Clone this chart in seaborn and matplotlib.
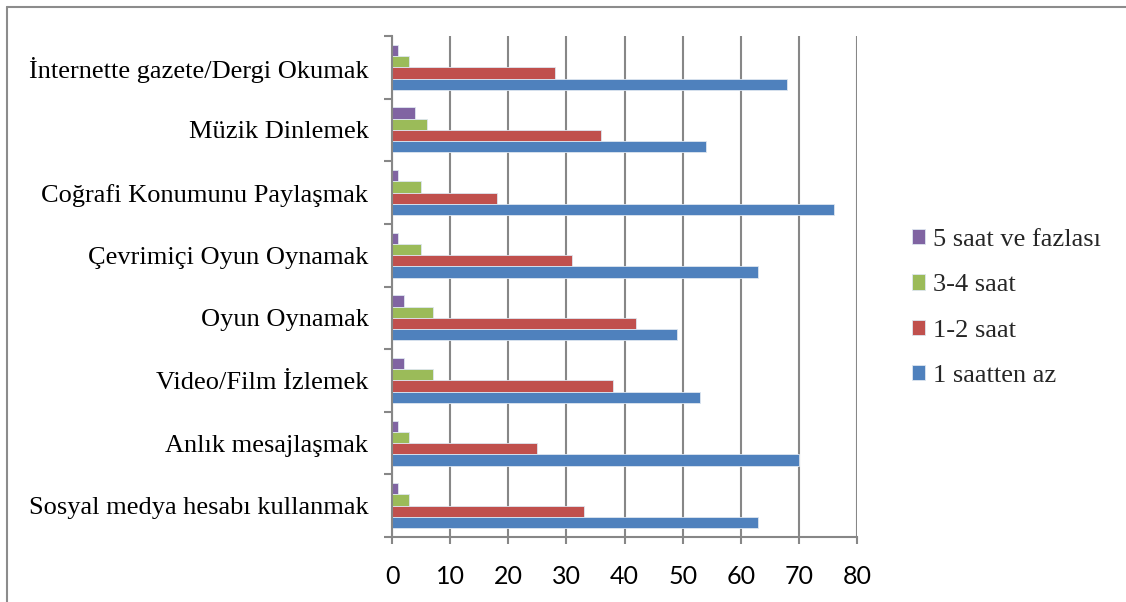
import matplotlib as mpl
import matplotlib.pyplot as plt
import numpy as np
import seaborn as sns
import pandas as pd

# categories, top to bottom as in the chart
kategoriler = [
  "İnternette gazete/Dergi Okumak",
  "Müzik Dinlemek",
  "Coğrafi Konumunu Paylaşmak",
  "Çevrimiçi Oyun Oynamak",
  "Oyun Oynamak",
  "Video/Film İzlemek",
  "Anlık mesajlaşmak",
  "Sosyal medya hesabı kullanmak",
]

seriler = ["5 saat ve fazlası", "3-4 saat", "1-2 saat", "1 saatten az"]

saat_5_ve_fazla = [1, 4, 1, 1, 2, 2, 1, 1]
saat_3_4 = [3, 6, 5, 5, 7, 7, 3, 3]
saat_1_2 = [28, 36, 18, 31, 42, 38, 25, 33]
saat_1_az = [68, 54, 76, 63, 49, 53, 70, 63]

renkler = ["#8064A2", "#9BBB59", "#C0504D", "#4F81BD"]
x_ticks = [0, 10, 20, 30, 40, 50, 60, 70, 80]

# long table for seaborn
rows = []
for seri, vals in zip(seriler, [saat_5_ve_fazla, saat_3_4, saat_1_2, saat_1_az]):
  for k, v in zip(kategoriler, vals):
    rows.append((k, seri, v))
df = pd.DataFrame(rows, columns=["kategori", "seri", "deger"])

sns.set_theme(style="white")
serif = ["Liberation Serif", "DejaVu Serif"]
plt.rcParams["font.family"] = serif

grid_col = "#878787"

fig = plt.figure(figsize=(11.26, 6.02), dpi=100)
ax = fig.add_axes([392 / 1126, 1 - 537 / 602, (857 - 392) / 1126, (537 - 36) / 602])

sns.barplot(data=df, y="kategori", x="deger", hue="seri", order=kategoriler,
            hue_order=seriler, palette=renkler, orient="h", width=0.72,
            saturation=1, edgecolor="#dde6f0", linewidth=0.6, ax=ax)

ax.set_xlim(0, 80)
ax.set_ylim(len(kategoriler) - 0.5, -0.5)
ax.set_xlabel("")
ax.set_ylabel("")

# vertical gridlines
ax.set_xticks(x_ticks)
ax.xaxis.grid(True, color=grid_col, linewidth=1.5)
ax.yaxis.grid(False)
ax.set_axisbelow(True)

for s in ["top", "right"]:
  ax.spines[s].set_visible(False)
for s in ["left", "bottom"]:
  ax.spines[s].set_color(grid_col)
  ax.spines[s].set_linewidth(1.5)

ax.tick_params(axis="x", bottom=True, direction="out", length=5, width=1.5,
               color=grid_col, pad=15, labelsize=18)
for lbl in ax.get_xticklabels():
  lbl.set_fontfamily(["Lato", "DejaVu Sans"])
  lbl.set_color("black")

# category labels centered, boundary ticks as minor ticks
ax.set_yticks(np.arange(len(kategoriler)))
ax.set_yticklabels(kategoriler)
ax.set_yticks(np.arange(len(kategoriler) + 1) - 0.5, minor=True)
ax.tick_params(axis="y", which="major", left=False, length=0, pad=17, labelsize=19,
               labelcolor="black")
ax.tick_params(axis="y", which="minor", left=True, direction="out", length=6,
               width=1.5, color=grid_col)

# legend on the right
handles, labels = ax.get_legend_handles_labels()
ax.legend(handles, labels, loc="center left", bbox_to_anchor=(912 / 1126, 1 - 308 / 602),
          bbox_transform=fig.transFigure, frameon=False,
          prop={"family": serif, "size": 19},
          handlelength=0.5, handleheight=0.5, handletextpad=0.3,
          labelspacing=0.88, borderpad=0, borderaxespad=0)

# outer frame of the picture (left and top edges only)
fig.add_artist(mpl.lines.Line2D([7 / 1126, 7 / 1126], [0, 1 - 7 / 602],
                                transform=fig.transFigure, color="#8c8c8c", linewidth=1.5))
fig.add_artist(mpl.lines.Line2D([7 / 1126, 1], [1 - 7 / 602, 1 - 7 / 602],
                                transform=fig.transFigure, color="#8c8c8c", linewidth=1.5))

fig.savefig("out.png", dpi=100)
